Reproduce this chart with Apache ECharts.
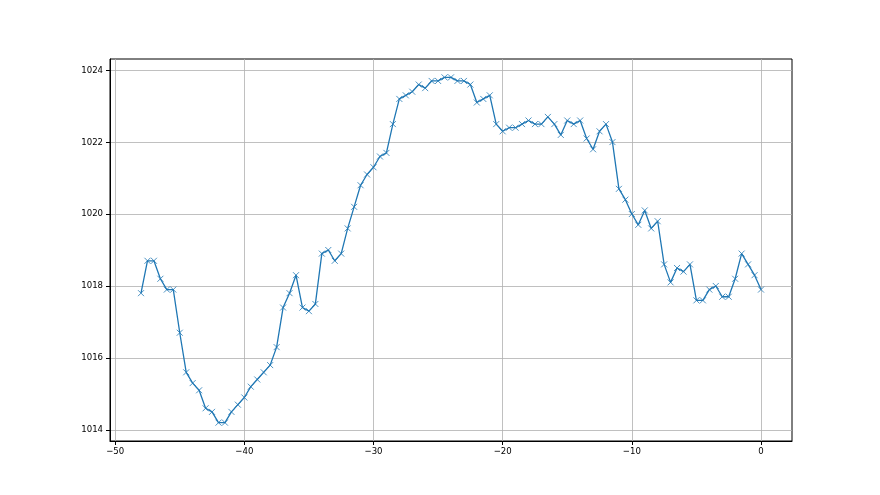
<!DOCTYPE html>
<html>
<head>
<meta charset="utf-8">
<script src="https://cdn.jsdelivr.net/npm/echarts@6/dist/echarts.min.js"></script>
<style>html,body{margin:0;padding:0;background:#fff}#c{width:880px;height:495px}</style>
</head>
<body>
<div id="c"></div>
<script>
var xValues = [-48,-47.5,-47,-46.5,-46,-45.5,-45,-44.5,-44,-43.5,-43,-42.5,-42,-41.5,-41,-40.5,-40,-39.5,-39,-38.5,
  -38,-37.5,-37,-36.5,-36,-35.5,-35,-34.5,-34,-33.5,-33,-32.5,-32,-31.5,-31,-30.5,-30,-29.5,-29,-28.5,
  -28,-27.5,-27,-26.5,-26,-25.5,-25,-24.5,-24,-23.5,-23,-22.5,-22,-21.5,-21,-20.5,-20,-19.5,-19,-18.5,
  -18,-17.5,-17,-16.5,-16,-15.5,-15,-14.5,-14,-13.5,-13,-12.5,-12,-11.5,-11,-10.5,-10,-9.5,-9,-8.5,
  -8,-7.5,-7,-6.5,-6,-5.5,-5,-4.5,-4,-3.5,-3,-2.5,-2,-1.5,-1,-0.5,0];
var pressure = [1017.8,1018.7,1018.7,1018.2,1017.9,1017.9,1016.7,1015.6,1015.3,1015.1,1014.6,1014.5,1014.2,1014.2,1014.5,1014.7,1014.9,1015.2,1015.4,1015.6,
  1015.8,1016.3,1017.4,1017.8,1018.3,1017.4,1017.3,1017.5,1018.9,1019.0,1018.7,1018.9,1019.6,1020.2,1020.8,1021.1,1021.3,1021.6,1021.7,1022.5,
  1023.2,1023.3,1023.4,1023.6,1023.5,1023.7,1023.7,1023.8,1023.8,1023.7,1023.7,1023.6,1023.1,1023.2,1023.3,1022.5,1022.3,1022.4,1022.4,1022.5,
  1022.6,1022.5,1022.5,1022.7,1022.5,1022.2,1022.6,1022.5,1022.6,1022.1,1021.8,1022.3,1022.5,1022.0,1020.7,1020.4,1020.0,1019.7,1020.1,1019.6,
  1019.8,1018.6,1018.1,1018.5,1018.4,1018.6,1017.6,1017.6,1017.9,1018.0,1017.7,1017.7,1018.2,1018.9,1018.6,1018.3,1017.9];
var xTicks = [-50,-40,-30,-20,-10,0];
var yTicks = [1014,1016,1018,1020,1022,1024];

var data = xValues.map(function(x,i){return [x, pressure[i]];});
var chart = echarts.init(document.getElementById('c'), null, {renderer:'canvas'});
var labelStyle = {color:'#000', fontSize:9.5, fontFamily:'"Liberation Sans Narrow", "DejaVu Sans Condensed", "Liberation Sans", sans-serif'};
chart.setOption({
  animation:false,
  backgroundColor:'#fff',
  grid:{left:110, right:88, top:59, bottom:54, show:true, borderColor:'#000', borderWidth:1, backgroundColor:'transparent'},
  xAxis:{type:'value', min:-50.4, max:2.4,
    axisLine:{show:true, onZero:false, lineStyle:{color:'#000', width:1}},
    axisTick:{show:true, inside:false, length:4, customValues:xTicks, lineStyle:{color:'#000'}},
    axisLabel:Object.assign({margin:6, customValues:xTicks, formatter:function(v){return v<0?'\u2212'+(-v):String(v);}}, labelStyle),
    splitLine:{show:true, lineStyle:{color:'#b0b0b0', width:0.8}}
  },
  yAxis:{type:'value', min:1013.69, max:1024.31,
    axisLine:{show:true, onZero:false, lineStyle:{color:'#000', width:1}},
    axisTick:{show:true, inside:false, length:4, customValues:yTicks, lineStyle:{color:'#000'}},
    axisLabel:Object.assign({margin:7, customValues:yTicks, formatter:function(v){return String(v);}}, labelStyle),
    splitLine:{show:true, lineStyle:{color:'#b0b0b0', width:0.8}}
  },
  series:[{type:'line', data:data, symbol:'path://M0,0L10,10M10,0L0,10', symbolSize:6, showAllSymbol:true,
    itemStyle:{color:'#1f77b4', borderColor:'#1f77b4', borderWidth:0.8},
    lineStyle:{color:'#1f77b4', width:1.3}}]
});
</script>
</body>
</html>
